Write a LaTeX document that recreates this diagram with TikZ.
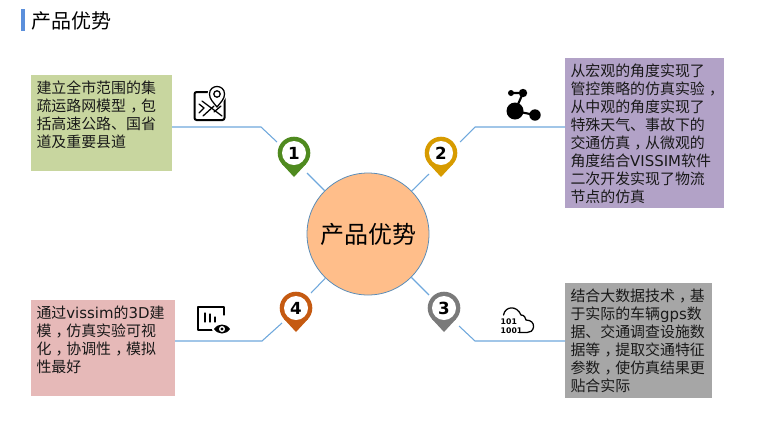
\documentclass[tikz,border=0pt]{standalone}
\usepackage{fontspec}
\setmainfont{DejaVu Sans}
\newfontfamily\cjk{Noto Sans CJK SC}
\newfontfamily\lat{DejaVu Sans}
\newlength\px
\setlength\px{0.75pt}
\definecolor{linkblue}{HTML}{6FA8DC}
\definecolor{titlebar}{HTML}{5B8FDB}
\definecolor{hubfill}{HTML}{FFBE8A}
\definecolor{hubline}{HTML}{5B8DB8}
\definecolor{pgreen}{HTML}{C8D69F}
\definecolor{ppurple}{HTML}{B2A2C7}
\definecolor{pgrey}{HTML}{A6A6A6}
\definecolor{ppink}{HTML}{E6B9B8}
\definecolor{mgreen}{HTML}{4F8A1F}
\definecolor{mgold}{HTML}{D79B00}
\definecolor{mgrey}{HTML}{7A7A7A}
\definecolor{morange}{HTML}{C55A11}
\newcommand{\cm}{\hspace{.28em}，\hspace{-.28em}}
\newcommand{\paneltext}[3]{\parbox[c][#2\px][t]{#1\px}{\fontsize{11.2}{13.5}\selectfont\cjk\vspace{5.5\px}\raggedright #3}}
\newcommand{\teardrop}[2]{\fill[#1] (#2) circle[radius=16.3]; \fill[#1] (#2) ++(-12,11) -- ++(12,13) -- ++(12,-13) -- cycle;}
\tikzset{
  x=0.75pt,y=-0.75pt,
  panel/.style={anchor=north west,inner xsep=5.5*\px,inner ysep=0pt,minimum width=#1*\px,outer sep=0pt,text=black!90},
  link/.style={draw=linkblue,line width=0.8pt},
  marker/.style={circle,fill=white,minimum size=24*\px,inner sep=0pt,font=\lat\bfseries\fontsize{12.5}{14}\selectfont},
  iconline/.style={draw=black,line width=1pt,line cap=round,line join=round},
  thinicon/.style={draw=black,line width=0.95pt,line cap=round,line join=round}
}
\begin{document}
\begin{tikzpicture}
\useasboundingbox (0,0) rectangle (780,426);
% title
\fill[titlebar] (21,9) rectangle (25,31);
\node[anchor=west,inner sep=0pt,font=\cjk\fontsize{15}{18}\selectfont] (title) at (31,21) {产品优势};
% hub
\node[circle,fill=hubfill,draw=hubline,line width=0.6pt,minimum size=122*\px,inner sep=0pt,font=\cjk\fontsize{18}{22}\selectfont] (hub) at (368,234) {\hspace{1.5\px}产品优势};
% panels
\node[panel=141,fill=pgreen] (box1) at (31,75) {\paneltext{130}{96}{建立全市范围的集\\疏运路网模型\cm 包\\括高速公路、国省\\道及重要县道}};
\node[panel=159,fill=ppurple] (box2) at (565,58) {\paneltext{148}{150}{从宏观的角度实现了\\\leavevmode\rlap{管控策略的仿真实验\cm}\\从中观的角度实现了\\特殊天气、事故下的\\交通仿真\cm 从微观的\\角度结合{\lat VISSIM}软件\\二次开发实现了物流\\节点的仿真}};
\node[panel=147,fill=pgrey] (box3) at (565,283) {\paneltext{136}{115}{结合大数据技术\cm 基\\于实际的车辆{\lat gps}数\\据、交通调查设施数\\据等\cm 提取交通特征\\参数\cm 使仿真结果更\\贴合实际}};
\node[panel=144,fill=ppink] (box4) at (31,300) {\paneltext{133}{96}{通过{\lat vissim}的{\lat 3D}建\\模\cm 仿真实验可视\\化\cm 协调性\cm 模拟\\性最好}};
% connector coordinates
\coordinate (e1) at (261,127); \coordinate (a1) at (277,142); \coordinate (b1) at (307,173);
\coordinate (e2) at (475,127); \coordinate (a2) at (460,142); \coordinate (b2) at (429,174);
\coordinate (e3) at (475,341); \coordinate (a3) at (459,326); \coordinate (b3) at (429,295);
\coordinate (e4) at (262,341); \coordinate (a4) at (282,323); \coordinate (b4) at (311,293);
\draw[link] (box1.east |- e1) -- (e1) -- (a1);
\draw[link] (box2.west |- e2) -- (e2) -- (a2);
\draw[link] (box3.west |- e3) -- (e3) -- (a3);
\draw[link] (box4.east |- e4) -- (e4) -- (a4);
\draw[link] (b1) -- (hub);
\draw[link] (b2) -- (hub);
\draw[link] (b3) -- (hub);
\draw[link] (b4) -- (hub);
% markers
\coordinate (c1) at (294,153); \coordinate (c2) at (441,153); \coordinate (c3) at (444,308); \coordinate (c4) at (296,308);
\teardrop{mgreen}{c1}
\teardrop{mgold}{c2}
\teardrop{mgrey}{c3}
\teardrop{morange}{c4}
\node[marker] (m1) at (c1) {1};
\node[marker] (m2) at (c2) {2};
\node[marker] (m3) at (c3) {3};
\node[marker] (m4) at (c4) {4};
% map icon
\draw[draw=black,line width=1.5pt,rounded corners=1.6pt] (194.5,92) rectangle (224.5,120);
\draw[thinicon] (199,104) -- (204,108) -- (199,113);
\draw[thinicon] (202,101) -- (222,116);
\draw[thinicon] (203,116) -- (214,106);
\draw[thinicon] (214,112) -- (221,106);
\fill[white] (217,94) circle[radius=9.5];
\draw[thinicon,fill=white] (217,107) .. controls (213,102) and (209.5,99) .. (209.5,94) .. controls (209.5,84) and (224.5,84) .. (224.5,94) .. controls (224.5,99) and (221,102) .. (217,107) -- cycle;
\draw[thinicon] (217,94) circle[radius=3.2];
% network icon
\draw[line width=1.6pt] (515,111) -- (535,115);
\draw[line width=1.6pt] (515,111) -- (523,93) -- (511,93);
\fill (515,111) circle[radius=8.5];
\fill (535,115) circle[radius=5.7];
\fill (523,93) circle[radius=4.2];
\fill (511,93) circle[radius=3];
% cloud icon
\draw[thinicon] (503.5,315) .. controls (505,306) and (517,305) .. (521,315) .. controls (525,315) and (525,318) .. (526,320) .. controls (531,320) and (534,323) .. (533.5,327) .. controls (533,331) and (530,332.5) .. (527,332.5) -- (519,332.5);
\node[inner sep=0pt,font=\lat\bfseries\fontsize{5.8}{6.5}\selectfont,align=left] (cloudbits) at (511.5,326) {101\\1001};
% chart-eye icon
\draw[thinicon] (224,315) -- (224,307) -- (198,307) -- (198,330) -- (214,330);
\draw[thinicon] (205,313) -- (205,322);
\draw[thinicon] (210,314) -- (210,322);
\draw[thinicon] (215,317) -- (215,322);
\fill[white] (222,329) ellipse[x radius=10,y radius=7];
\fill (214,329) .. controls (218,323) and (226,323) .. (230,329) .. controls (226,335) and (218,335) .. (214,329) -- cycle;
\fill[white] (222,329) circle[radius=3];
\fill (222,329) circle[radius=1.7];
\end{tikzpicture}
\end{document}
